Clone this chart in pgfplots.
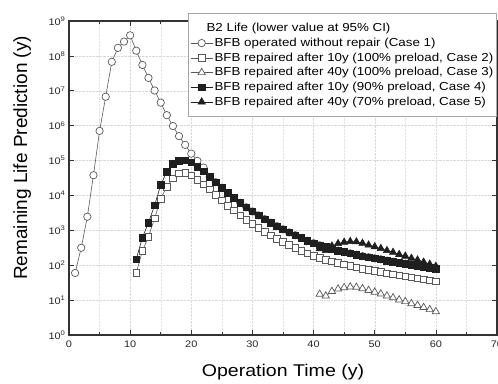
\documentclass[border=0pt]{standalone}
\usepackage{fontspec}
\setmainfont{Liberation Sans}[FakeStretch=1.15]
\newfontfamily\ylabfont{Liberation Sans}
\usepackage{pgfplots}
\pgfplotsset{compat=1.18}
\definecolor{opengray}{gray}{0.35}
\definecolor{darkmk}{gray}{0.12}
\pgfplotsset{mylegimg/.style={legend image code/.code={\draw[mark repeat=2,mark phase=2] plot coordinates {(0pt,0pt)(11pt,0pt)(22pt,0pt)};}}}
\begin{document}
\begin{tikzpicture}
\begin{axis}[
  name=ax,
  scale only axis,
  width=428pt, height=314pt,
  xmin=0, xmax=70,
  ymode=log, log basis y=10,
  ymin=1, ymax=1e9,
  xtick={0,10,20,30,40,50,60,70},
  xticklabels={0,10,20,30,40,50,60,70},
  minor x tick num=1,
  ytick={1,10,100,1000,1e4,1e5,1e6,1e7,1e8,1e9},
  yticklabel={10\textsuperscript{\pgfmathparse{int(round(\tick))}\pgfmathresult}},
  ticklabel style={font=\fontsize{9.5}{11}\selectfont, text=black!85},
  xticklabel style={yshift=-2pt},
  tick align=inside,
  major tick length=5pt, minor tick length=3pt,
  tick style={black!80, line width=0.7pt},
  axis line style={black!80, line width=1.1pt},
  grid=both,
  major grid style={gray!30, densely dotted, line width=0.4pt},
  minor grid style={gray!22, densely dotted, line width=0.4pt},
  xlabel={Operation Time (y)},
  xlabel style={font=\fontsize{17}{19}\selectfont, at={(axis description cs:0.5,0)}, anchor=base, yshift=-41pt},
  ylabel={\ylabfont Remaining Life Prediction (y)},
  ylabel style={font=\fontsize{19}{21}\selectfont, at={(axis description cs:-0.098,0.564)}, anchor=base},
  legend style={at={(axis description cs:1,1.026)}, anchor=north east,
    draw=gray!70, line width=1pt, fill=white,
    font=\fontsize{11.6}{13}\selectfont, inner xsep=1.5pt, inner ysep=8.5pt, row sep=1.6pt,
    nodes={inner sep=1.6pt}},
  legend cell align=left,
]
\addlegendimage{empty legend}
\addlegendentry{\hspace{-8pt}B2 Life (lower value at 95\% CI)}

% Case 1
\addplot[opengray, line width=0.6pt, mark=*, mark size=3.7pt, mark options={fill=white, draw=opengray, line width=0.7pt}, mylegimg] coordinates {
(1,60)(2,316)(3,2450)(4,38000)(5,7.08e5)(6,6.76e6)(7,6.76e7)(8,1.70e8)(9,2.57e8)(10,3.89e8)
(11,1.41e8)(12,5.50e7)(13,2.34e7)(14,1.02e7)(15,4.57e6)(16,2.00e6)(17,9.77e5)(18,5.01e5)(19,2.82e5)(20,1.58e5)
(21,9.77e4)(22,6.31e4)(23,3.39e4)(24,2.40e4)(25,1.66e4)(26,1.17e4)(27,8510)(28,6170)(29,4570)(30,3470)
(31,2690)(32,2090)(33,1660)(34,1320)(35,1070)(36,871)(37,724)(38,603)(39,501)(40,427)
(41,372)(42,331)(43,295)(44,263)(45,240)(46,219)(47,200)(48,182)(49,170)(50,158)
(51,148)(52,135)(53,126)(54,117)(55,110)(56,102)(57,95.5)(58,89.1)(59,85.1)(60,79.4)
};
\addlegendentry{BFB operated without repair (Case 1)}

% Case 2
\addplot[opengray, line width=0.6pt, mark=square*, mark size=3.3pt, mark options={fill=white, draw=opengray, line width=0.7pt}, mylegimg] coordinates {
(11,60.3)(12,257)(13,661)(14,2190)(15,8130)(16,1.78e4)(17,3.09e4)(18,4.27e4)(19,4.47e4)(20,3.80e4)
(21,2.82e4)(22,2.09e4)(23,1.48e4)(24,1.05e4)(25,7240)(26,5130)(27,3720)(28,2690)(29,2000)(30,1510)
(31,1170)(32,912)(33,724)(34,575)(35,468)(36,380)(37,316)(38,263)(39,219)(40,186)
(41,162)(42,145)(43,129)(44,115)(45,105)(46,95.5)(47,87.1)(48,79.4)(49,74.1)(50,69.2)
(51,64.6)(52,58.9)(53,55.0)(54,51.3)(55,47.9)(56,44.7)(57,41.7)(58,38.9)(59,37.2)(60,34.7)
};
\addlegendentry{BFB repaired after 10y (100\% preload, Case 2)}

% Case 3
\addplot[opengray, line width=0.6pt, mark=triangle*, mark size=4.2pt, mark options={fill=white, draw=opengray, line width=0.7pt}, mylegimg] coordinates {
(41,14.8)(42,13.2)(43,17.8)(44,20.9)(45,22.9)(46,24.0)(47,23.4)(48,21.4)(49,19.1)(50,17.0)
(51,15.1)(52,13.2)(53,11.7)(54,10.2)(55,9.12)(56,7.94)(57,7.08)(58,6.17)(59,5.37)(60,4.68)
};
\addlegendentry{BFB repaired after 40y (100\% preload, Case 3)}

% Case 4
\addplot[darkmk, line width=0.6pt, mark=square*, mark size=3.3pt, mark options={fill=darkmk, draw=darkmk}, mylegimg] coordinates {
(11,148)(12,617)(13,1660)(14,5250)(15,2.00e4)(16,4.79e4)(17,7.94e4)(18,1.00e5)(19,1.02e5)(20,8.91e4)
(21,6.61e4)(22,4.90e4)(23,3.39e4)(24,2.40e4)(25,1.66e4)(26,1.17e4)(27,8510)(28,6170)(29,4570)(30,3470)
(31,2690)(32,2090)(33,1660)(34,1320)(35,1070)(36,871)(37,724)(38,603)(39,501)(40,427)
(41,372)(42,331)(43,295)(44,263)(45,240)(46,219)(47,200)(48,182)(49,170)(50,158)
(51,148)(52,135)(53,126)(54,117)(55,110)(56,102)(57,95.5)(58,89.1)(59,85.1)(60,79.4)
};
\addlegendentry{BFB repaired after 10y (90\% preload, Case 4)}

% Case 5
\addplot[darkmk, line width=0.6pt, mark=triangle*, mark size=4.2pt, mark options={fill=darkmk, draw=darkmk}, mylegimg] coordinates {
(41,295)(42,263)(43,355)(44,417)(45,457)(46,479)(47,468)(48,427)(49,380)(50,339)
(51,302)(52,263)(53,234)(54,204)(55,182)(56,158)(57,141)(58,123)(59,107)(60,93.3)
};
\addlegendentry{BFB repaired after 40y (70\% preload, Case 5)}
\end{axis}
\pgfresetboundingbox
\useasboundingbox ([shift={(-69pt,-48pt)}]ax.south west) rectangle ([shift={(429pt,335pt)}]ax.south west);
\end{tikzpicture}
\end{document}
